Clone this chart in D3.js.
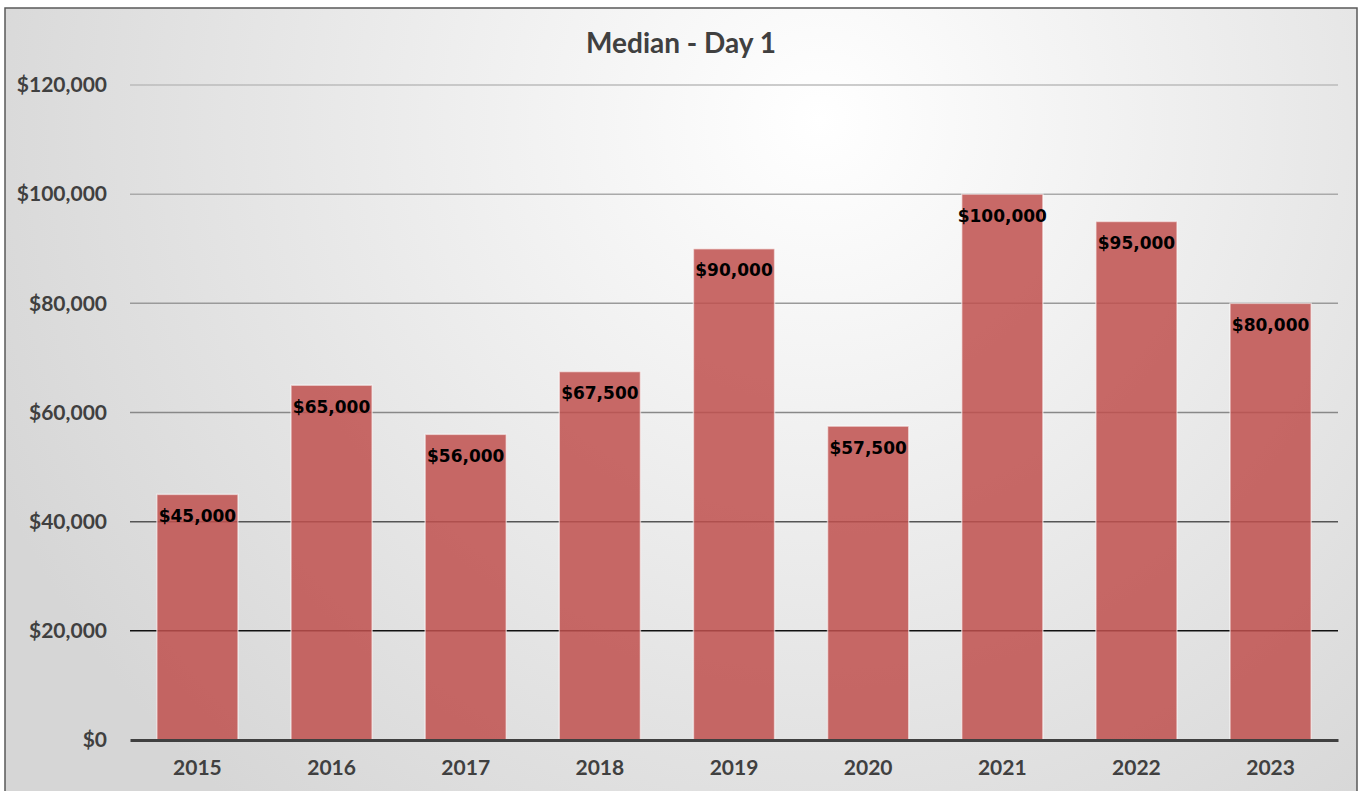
<!DOCTYPE html>
<html>
<head>
<meta charset="utf-8">
<script src="https://cdn.jsdelivr.net/npm/d3@7"></script>
<style>
  html, body { margin: 0; padding: 0; background: #fff; }
  svg { display: block; }
</style>
</head>
<body>
<svg id="chart" width="1363" height="791"></svg>
<script>
// chart data
var years = ['2015', '2016', '2017', '2018', '2019', '2020', '2021', '2022', '2023']
var medians = [45000, 65000, 56000, 67500, 90000, 57500, 100000, 95000, 80000]
var yTicks = [0, 20000, 40000, 60000, 80000, 100000, 120000]
// gridlines get darker toward the bottom
var gridColors = ['#3a3a3a', '#111', '#555', '#888', '#9a9a9a', '#aaa', '#bbb']
var title = 'Median - Day 1'

var svg = d3.select('#chart')
var W = 1363
var H = 791
var margin = {top: 85, right: 25, bottom: 51, left: 130}
var width = W - margin.left - margin.right
var height = H - margin.top - margin.bottom

// background gradient
var defs = svg.append('defs')
var grad = defs.append('radialGradient')
  .attr('id', 'bg')
  .attr('gradientUnits', 'userSpaceOnUse')
  .attr('cx', 820).attr('cy', 120).attr('r', 900)
grad.append('stop').attr('offset', '0%').attr('stop-color', '#ffffff')
grad.append('stop').attr('offset', '100%').attr('stop-color', '#d6d6d6')

svg.append('rect')
  .attr('x', 5).attr('y', 8)
  .attr('width', 1352).attr('height', 800)
  .attr('fill', 'url(#bg)')
  .attr('stroke', '#595959')
  .attr('stroke-width', 1.5)

svg.append('text')
  .attr('x', 681).attr('y', 53)
  .attr('text-anchor', 'middle')
  .attr('font-family', 'Lato, "Open Sans", sans-serif')
  .attr('font-weight', 700)
  .attr('font-size', 28)
  .attr('fill', '#404040')
  .text(title)

var g = svg.append('g')
  .attr('transform', 'translate(' + margin.left + ',' + margin.top + ')')

var x = d3.scaleBand().domain(years).range([0, width]).paddingInner(0.395).paddingOuter(0.2)
var y = d3.scaleLinear().domain([0, 120000]).range([height, 0])

// gridlines
g.selectAll('.grid')
  .data(yTicks.slice(1))
  .enter()
  .append('line')
  .attr('class', 'grid')
  .attr('x1', 0).attr('x2', width)
  .attr('y1', (d) => y(d)).attr('y2', (d) => y(d))
  .attr('stroke', (d, i) => gridColors[i + 1])
  .attr('stroke-width', 1.5)

// y axis labels
var yAxis = d3.axisLeft(y)
  .tickValues(yTicks)
  .tickSize(0)
  .tickPadding(23)
  .tickFormat((d) => '$' + d3.format(',')(d))
var ya = g.append('g').call(yAxis)
ya.select('.domain').remove()
ya.selectAll('text')
  .attr('font-family', 'Lato, "Open Sans", sans-serif')
  .attr('font-weight', 700)
  .attr('font-size', 21)
  .attr('fill', '#404040')

// bars
g.selectAll('.bar')
  .data(medians)
  .enter()
  .append('rect')
  .attr('class', 'bar')
  .attr('x', (d, i) => x(years[i]))
  .attr('width', x.bandwidth())
  .attr('y', (d) => y(d))
  .attr('height', (d) => height - y(d))
  .attr('fill', '#c0504d')
  .attr('fill-opacity', 0.85)
  .attr('stroke', 'rgba(255,255,255,0.55)')
  .attr('stroke-width', 1.5)

// value labels
g.selectAll('.lbl')
  .data(medians)
  .enter()
  .append('text')
  .attr('class', 'lbl')
  .attr('x', (d, i) => x(years[i]) + x.bandwidth() / 2)
  .attr('y', (d) => y(d) + 27.5)
  .attr('text-anchor', 'middle')
  .attr('font-family', '"DejaVu Sans", Verdana, sans-serif')
  .attr('font-weight', 700)
  .attr('font-size', 17)
  .attr('fill', '#000')
  .text((d) => '$' + d3.format(',')(d))

// baseline + x axis labels
var xAxis = d3.axisBottom(x).tickSize(0).tickPadding(20)
var xa = g.append('g')
  .attr('transform', 'translate(0,' + height + ')')
  .call(xAxis)
xa.select('.domain')
  .attr('stroke', '#404040')
  .attr('stroke-width', 3)
xa.selectAll('text')
  .attr('font-family', 'Lato, "Open Sans", sans-serif')
  .attr('font-weight', 700)
  .attr('font-size', 21)
  .attr('fill', '#404040')
</script>
</body>
</html>
